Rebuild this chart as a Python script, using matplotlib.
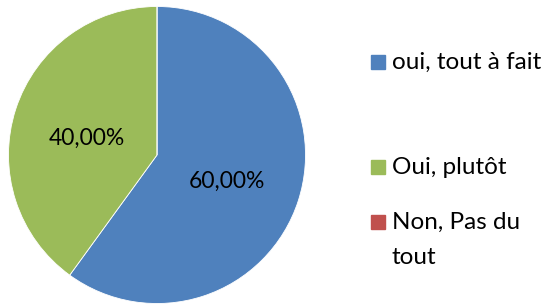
import matplotlib
matplotlib.use("Agg")
import matplotlib.pyplot as plt
from matplotlib.patches import Rectangle

labels = ["oui, tout à fait", "Oui, plutôt", "Non, Pas du\ntout"]
values = [60.0, 40.0, 0.0]
colors = ["#4F81BD", "#9BBB59", "#C0504D"]

plt.rcParams["font.family"] = ["Lato", "DejaVu Sans"]

W, H = 548, 304
fig = plt.figure(figsize=(W / 100, H / 100), dpi=100)
ax = fig.add_axes([7 / W, -1 / H, 300 / W, 300 / H])

wedges, _ = ax.pie(values, colors=colors, startangle=90, counterclock=False,
                   radius=1.0, wedgeprops=dict(edgecolor="white", linewidth=0.6))
ax.set_xlim(-1.01, 1.01)
ax.set_ylim(-1.01, 1.01)
ax.set_aspect("equal")

# percentage labels
label_pos = [(0.47, -0.18), (-0.47, 0.11)]
for v, (x, y) in zip(values, label_pos):
    ax.text(x, y, f"{v:.2f}%".replace(".", ","), ha="center", va="center",
            fontsize=16.5, color="black")

# legend drawn by hand
leg_y = [62, 167, 222]
for lab, col, y in zip(labels, colors, leg_y):
    fig.patches.append(Rectangle((371 / W, 1 - (y + 7) / H), 14 / W, 14 / H,
                                 transform=fig.transFigure, color=col))
    for i, line in enumerate(lab.split("\n")):
        fig.text(392 / W, 1 - (y + 35 * i) / H, line, ha="left",
                 va="center", fontsize=17.5)

fig.savefig("out.png", dpi=100)
